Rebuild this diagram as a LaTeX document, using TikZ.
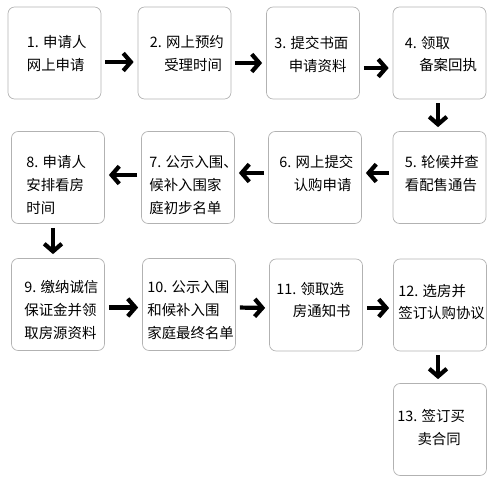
\documentclass[tikz,border=0pt]{standalone}
\usepackage{fontspec}
\newfontfamily\cjkfont{Noto Sans CJK SC}
\usetikzlibrary{arrows.meta}

\begin{document}
\begin{tikzpicture}[
    x=0.03cm, y=-0.03cm,
    stepbox/.style={draw=gray!60, line width=0.6pt, rounded corners=0.2cm, minimum width=2.79cm, minimum height=2.76cm, inner sep=0pt},
    steptext/.style={anchor=north west, inner sep=0pt, align=left, font=\cjkfont\fontsize{12.3}{19.6}\selectfont},
    arrow/.style={line width=3.6pt, -{Straight Barb[length=6.5pt,width=15pt]}, shorten <=0.12cm, shorten >=0.12cm}
]
    \useasboundingbox (0,0) rectangle (500,477);

    % First row
    \node[stepbox] (b1) at (54.5,53) {};
    \node[steptext] (t1) at ([shift={(19,29)}]b1.north west) {1. 申请人\\网上申请};
    \node[stepbox] (b2) at (184.5,53) {};
    \node[steptext] (t2) at ([shift={(12,29)}]b2.north west) {2. 网上预约\\\hspace*{1em}受理时间};
    \node[stepbox] (b3) at (313,53) {};
    \node[steptext] (t3) at ([shift={(8,29)}]b3.north west) {3. 提交书面\\\hspace*{1em}申请资料};
    \node[stepbox] (b4) at (439.5,53) {};
    \node[steptext] (t4) at ([shift={(12,29)}]b4.north west) {4. 领取\\\hspace*{1em}备案回执};

    % Second row, right to left
    \node[stepbox] (b5) at (439.5,177.5) {};
    \node[steptext] (t5) at ([shift={(12,24)}]b5.north west) {5. 轮候并查\\看配售通告};
    \node[stepbox] (b6) at (315,177.5) {};
    \node[steptext] (t6) at ([shift={(11,24)}]b6.north west) {6. 网上提交\\\hspace*{1em}认购申请};
    \node[stepbox] (b7) at (188,177.5) {};
    \node[steptext] (t7) at ([shift={(8,24)}]b7.north west) {7. 公示入围、\\候补入围家\\庭初步名单};
    \node[stepbox] (b8) at (58,177.5) {};
    \node[steptext] (t8) at ([shift={(15,24)}]b8.north west) {8. 申请人\\安排看房\\时间};

    % Third row
    \node[stepbox] (b9) at (58,304.5) {};
    \node[steptext] (t9) at ([shift={(13,22)}]b9.north west) {9. 缴纳诚信\\保证金并领\\取房源资料};
    \node[stepbox] (b10) at (189,304.5) {};
    \node[steptext] (t10) at ([shift={(5,22)}]b10.north west) {10. 公示入围\\和候补入围\\家庭最终名单};
    \node[stepbox] (b11) at (316,305) {};
    \node[steptext] (t11) at ([shift={(7,23)}]b11.north west) {11. 领取选\\\hspace*{1.15em}房通知书};
    \node[stepbox] (b12) at (440,305) {};
    \node[steptext] (t12) at ([shift={(5,25)}]b12.north west) {12. 选房并\\签订认购协议};

    % Last step
    \node[stepbox] (b13) at (440,429.5) {};
    \node[steptext] (t13) at ([shift={(4,26)}]b13.north west) {13. 签订买\\\hspace*{1.4em}卖合同};

    % Arrows
    \draw[arrow] ([shift={(0,9)}]b1.east) -- ([shift={(0,9)}]b2.west);
    \draw[arrow] ([shift={(0,10)}]b2.east) -- ([shift={(0,10)}]b3.west);
    \draw[arrow] ([shift={(0,15)}]b3.east) -- ([shift={(0,15)}]b4.west);
    \draw[arrow] ([shift={(-1.5,0)}]b4.south) -- ([shift={(-1.5,0)}]b5.north);
    \draw[arrow] ([shift={(0,-4.5)}]b5.west) -- ([shift={(0,-4.5)}]b6.east);
    \draw[arrow] ([shift={(0,-4.5)}]b6.west) -- ([shift={(0,-4.5)}]b7.east);
    \draw[arrow] ([shift={(0,-2.5)}]b7.west) -- ([shift={(0,-2.5)}]b8.east);
    \draw[arrow] ([shift={(-5,0)}]b8.south) -- ([shift={(-5,0)}]b9.north);
    \draw[arrow] ([shift={(0,3)}]b9.east) -- ([shift={(0,3)}]b10.west);
    \draw[arrow] ([shift={(0,3)}]b10.east) -- ([shift={(0,3)}]b11.west);
    \draw[arrow] ([shift={(0,3)}]b11.east) -- ([shift={(0,3)}]b12.west);
    \draw[arrow] ([shift={(-2,0)}]b12.south) -- ([shift={(-2,0)}]b13.north);

\end{tikzpicture}
\end{document}
